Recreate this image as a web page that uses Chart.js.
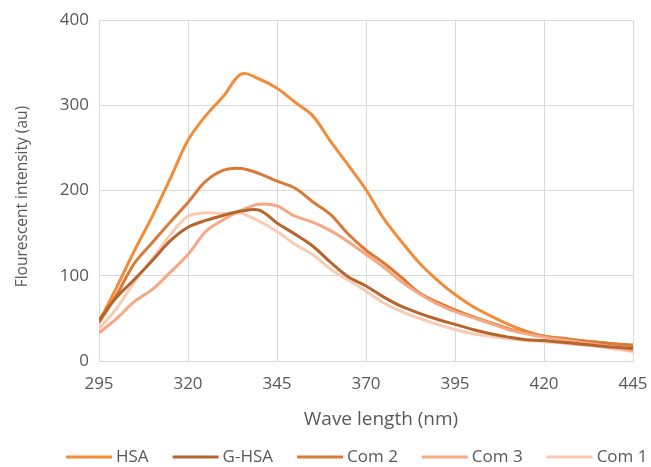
<!DOCTYPE html>
<html>
<head>
<meta charset="utf-8">
<script src="https://cdn.jsdelivr.net/npm/chart.js@4"></script>
<style>
  html, body { margin: 0; padding: 0; background: #ffffff; }
  #wrap { width: 651px; height: 467px; }
</style>
</head>
<body>
<div id="wrap"><canvas id="c" width="651" height="467"></canvas></div>
<script>
const wavelengths = [295,300,305,310,315,320,325,330,335,340,345,350,355,360,365,370,375,380,385,390,395,400,405,410,415,420,425,430,435,440,445];
const hsa   = [46,87,130,170,214,259,288,311,337,331,320,304,288,258,230,201,167,140,115,95,78,64,53,43,35,29,27,24,22,20,19];
const gHsa  = [48,75,96,118,141,157,165,171,176,177,162,149,135,116,99,88,75,64,56,49,43,37,32,28,25,24,22,20,18,16,15];
const com2  = [45,78,115,139,163,186,211,224,226,220,211,203,187,172,149,130,115,98,80,69,60,52,45,38,33,29,26,24,22,20,18];
const com3  = [33,50,70,84,104,125,152,166,177,184,182,170,163,153,140,125,110,93,79,67,58,51,44,37,32,28,25,22,19,16,12];
const com1  = [38,62,93,120,148,170,174,173,173,164,152,137,125,108,95,82,68,58,50,43,37,32,29,26,24,23,21,19,17,14,11];
const seriesNames = ['HSA','G-HSA','Com 2','Com 3','Com 1'];
const xTicks = [295,320,345,370,395,420,445];
const yTicks = [0,100,200,300,400];
const xTitle = 'Wave length (nm)';
const yTitle = 'Flourescent intensity (au)';

const colors = ['#F28C38','#B5652D','#D97A3A','#F6A882','#F9CBB2'];
const seriesData = [hsa, gHsa, com2, com3, com1];

const FONT = "'Open Sans', 'Noto Sans', sans-serif";
const TEXT = '#595959';

const datasets = seriesData.map((arr, i) => ({
  label: seriesNames[i],
  data: wavelengths.map((w, j) => ({x: w, y: arr[j]})),
  borderColor: colors[i],
  backgroundColor: colors[i],
  borderWidth: 3,
  pointRadius: 0,
  tension: 0.35,
  fill: false
}));
const order = [4,0,2,1,3];
datasets.forEach((d,i)=>{ d.order = order[i]; });

// titles and legend drawn as canvas text
const decor = {
  id: 'decor',
  afterDraw(chart) {
    const ctx = chart.ctx;
    const area = chart.chartArea;
    ctx.save();
    ctx.fillStyle = TEXT;
    ctx.textBaseline = 'middle';
    // x title
    ctx.font = "19px " + FONT;
    ctx.textAlign = 'center';
    ctx.fillText(xTitle, (area.left + area.right) / 2 + 15, area.bottom + 59);
    // y title
    ctx.save();
    ctx.translate(23, (area.top + area.bottom) / 2 + 6);
    ctx.rotate(-Math.PI / 2);
    ctx.font = "15.5px " + FONT;
    ctx.fillText(yTitle, 0, 0);
    ctx.restore();
    // legend
    ctx.font = "17px " + FONT;
    ctx.textAlign = 'left';
    const lineLen = 46, gapText = 4, gapItem = 24, ly = 457;
    let x = 66;
    seriesNames.forEach((name, i) => {
      ctx.strokeStyle = colors[i];
      ctx.lineWidth = 3;
      ctx.beginPath();
      ctx.moveTo(x, ly);
      ctx.lineTo(x + lineLen, ly);
      ctx.stroke();
      x += lineLen + gapText;
      ctx.fillText(name, x, ly);
      x += ctx.measureText(name).width + gapItem;
    });
    ctx.restore();
  }
};

new Chart(document.getElementById('c'), {
  type: 'line',
  data: { datasets },
  plugins: [decor],
  options: {
    responsive: false,
    animation: false,
    devicePixelRatio: 1,
    layout: { padding: { left: 0, right: 18, top: 12, bottom: 0 } },
    plugins: {
      legend: { display: false },
      tooltip: { enabled: false }
    },
    scales: {
      x: {
        type: 'linear',
        min: 295, max: 445,
        afterBuildTicks: (s) => { s.ticks = xTicks.map(v => ({value: v})); },
        afterFit: (s) => { s.height = 106; s.paddingLeft = 0; s.paddingRight = 0; },
        grid: { color: '#D9D9D9', drawTicks: false },
        border: { color: '#D9D9D9' },
        ticks: { font: { family: FONT, size: 17 }, color: TEXT, padding: 13 }
      },
      y: {
        min: 0, max: 400,
        afterBuildTicks: (s) => { s.ticks = yTicks.map(v => ({value: v})); },
        afterFit: (s) => { s.width = 99; },
        grid: { color: '#D9D9D9', drawTicks: false },
        border: { color: '#D9D9D9' },
        ticks: { font: { family: FONT, size: 17 }, color: TEXT, padding: 10 }
      }
    }
  }
});
</script>
</body>
</html>
